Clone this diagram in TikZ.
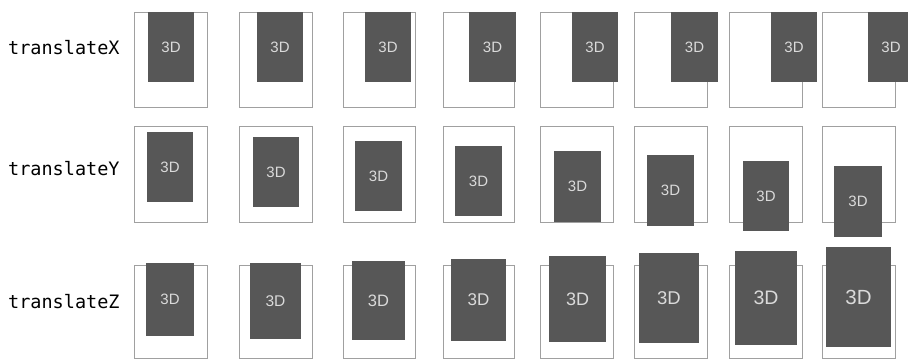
\documentclass[tikz,border=0pt]{standalone}
\usepackage{fontspec}
\setmainfont{Liberation Sans}
\newfontfamily\labelfont{DejaVu Sans Mono}
\definecolor{framegray}{HTML}{A0A0A0}
\definecolor{cardgray}{HTML}{575757}
\definecolor{cardtext}{HTML}{DADADA}
\tikzset{
  frm/.style={draw=framegray, line width=1pt, fill=white},
  card/.style={fill=cardgray, draw=none, inner sep=0pt, text=cardtext},
  lbl/.style={anchor=base west, inner sep=0pt, font=\labelfont\fontsize{18.5}{20}\selectfont}
}
% name, x1, y1, x2, y2, font size
\newcommand\mkframe[5]{\node[frm, minimum width={(#4-#2)*1pt}, minimum height={(#5-#3)*1pt}, inner sep=0pt] (#1) at ({(#2+#4)/2},{(#3+#5)/2}) {};}
\newcommand\mkcard[6]{\node[card, minimum width={(#4-#2)*1pt}, minimum height={(#5-#3)*1pt}, font=\fontsize{#6}{#6}\selectfont] (#1) at ({(#2+#4)/2},{(#3+#5)/2}) {3D};}
\begin{document}
\begin{tikzpicture}[x=1pt,y=-1pt]
\useasboundingbox[fill=white] (0,0) rectangle (908,360);
% labels
\node[lbl] (lx) at (8,54) {translateX};
\node[lbl] (ly) at (8,175) {translateY};
\node[lbl] (lz) at (8,308) {translateZ};
% row 1: translateX
\mkframe{fa1}{134}{12}{207}{107}
\mkframe{fa2}{239}{12}{312}{107}
\mkframe{fa3}{343}{12}{415}{107}
\mkframe{fa4}{443}{12}{514}{107}
\mkframe{fa5}{540}{12}{613}{107}
\mkframe{fa6}{634}{12}{707}{107}
\mkframe{fa7}{729}{12}{802}{107}
\mkframe{fa8}{822}{12}{895}{107}
\mkcard{ca1}{148}{12}{194}{82}{15}
\mkcard{ca2}{257}{12}{303}{82}{15}
\mkcard{ca3}{365}{12}{411}{82}{15}
\mkcard{ca4}{469}{12}{516}{82}{15}
\mkcard{ca5}{572}{12}{618}{82}{15}
\mkcard{ca6}{671}{12}{718}{82}{15}
\mkcard{ca7}{771}{12}{817}{82}{15}
\mkcard{ca8}{868}{12}{914}{82}{15}
% row 2: translateY
\mkframe{fb1}{134}{126}{207}{222}
\mkframe{fb2}{239}{126}{312}{222}
\mkframe{fb3}{343}{126}{415}{222}
\mkframe{fb4}{443}{126}{514}{222}
\mkframe{fb5}{540}{126}{613}{222}
\mkframe{fb6}{634}{126}{707}{222}
\mkframe{fb7}{729}{126}{802}{222}
\mkframe{fb8}{822}{126}{895}{222}
\mkcard{cb1}{147}{132}{193}{202}{15}
\mkcard{cb2}{253}{137}{299}{207}{15}
\mkcard{cb3}{355}{141}{402}{211}{15}
\mkcard{cb4}{455}{146}{502}{216}{15}
\mkcard{cb5}{554}{151}{601}{222}{15}
\mkcard{cb6}{647}{155}{694}{226}{15}
\mkcard{cb7}{743}{161}{789}{231}{15}
\mkcard{cb8}{834}{166}{882}{237}{15}
% row 3: translateZ
\mkframe{fc1}{134}{265}{207}{358}
\mkframe{fc2}{239}{265}{312}{358}
\mkframe{fc3}{343}{265}{415}{358}
\mkframe{fc4}{443}{265}{514}{358}
\mkframe{fc5}{540}{265}{613}{358}
\mkframe{fc6}{634}{265}{707}{358}
\mkframe{fc7}{729}{265}{802}{358}
\mkframe{fc8}{822}{265}{895}{358}
\mkcard{cc1}{146}{263}{194}{336}{15}
\mkcard{cc2}{250}{263}{301}{339}{15.5}
\mkcard{cc3}{352}{261}{405}{340}{16.5}
\mkcard{cc4}{451}{259}{506}{341}{17}
\mkcard{cc5}{549}{256}{606}{342}{18}
\mkcard{cc6}{639}{253}{699}{343}{18.5}
\mkcard{cc7}{735}{251}{797}{345}{19.5}
\mkcard{cc8}{826}{247}{891}{347}{20.5}
\end{tikzpicture}
\end{document}
